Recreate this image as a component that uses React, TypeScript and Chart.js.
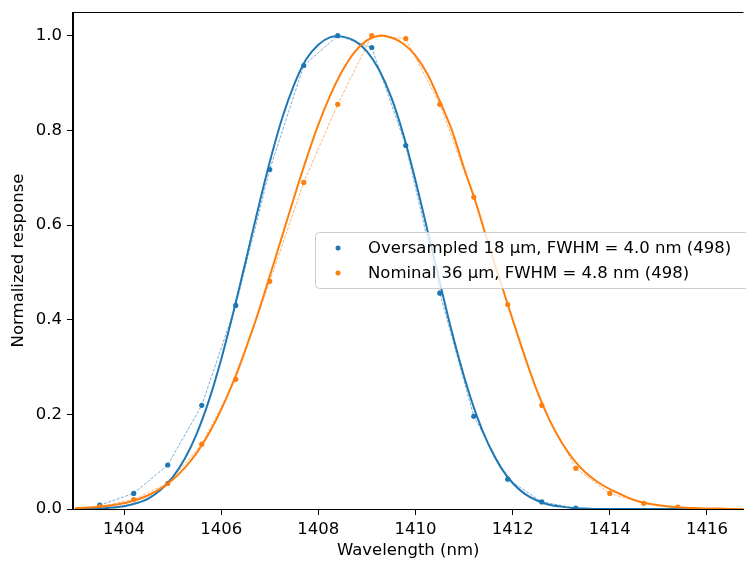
import { useEffect, useRef } from "react";
import { Chart, registerables } from "chart.js";

Chart.register(...registerables);

// ---------------- data ----------------
const seriesLabels = [
  "Oversampled 18 µm, FWHM = 4.0 nm (498)",
  "Nominal 36 µm, FWHM = 4.8 nm (498)",
];

const wavelengths = [
  1403.5, 1404.2, 1404.9, 1405.6, 1406.3, 1407.0, 1407.7, 1408.4, 1409.1,
  1409.8, 1410.5, 1411.2, 1411.9, 1412.6, 1413.3, 1414.0, 1414.7, 1415.4,
];
const oversampled = [
  0.008, 0.033, 0.093, 0.219, 0.43, 0.717, 0.937, 1.0, 0.975, 0.768, 0.456,
  0.196, 0.063, 0.015, 0.002, null, null, null,
];
const nominal = [
  0.005, 0.02, 0.054, 0.137, 0.274, 0.481, 0.69, 0.855, 1.0, 0.994, 0.855,
  0.659, 0.432, 0.219, 0.086, 0.033, 0.012, 0.004,
];

const fitWavelengths = [
  1403.0, 1403.25, 1403.5, 1403.75, 1404.0, 1404.25, 1404.5, 1404.75, 1405.0,
  1405.25, 1405.5, 1405.75, 1406.0, 1406.25, 1406.5, 1406.75, 1407.0, 1407.25,
  1407.5, 1407.75, 1408.0, 1408.25, 1408.5, 1408.75, 1409.0, 1409.25, 1409.5,
  1409.75, 1410.0, 1410.25, 1410.5, 1410.75, 1411.0, 1411.25, 1411.5, 1411.75,
  1412.0, 1412.25, 1412.5, 1412.75, 1413.0, 1413.25, 1413.5, 1413.75, 1414.0,
  1414.25, 1414.5, 1414.75, 1415.0, 1415.25, 1415.5, 1415.75, 1416.0, 1416.25,
  1416.5, 1416.75,
];
const oversampledFit = [
  0.0, 0.001, 0.001, 0.003, 0.006, 0.012, 0.022, 0.04, 0.067, 0.106, 0.16,
  0.23, 0.316, 0.415, 0.522, 0.63, 0.733, 0.824, 0.896, 0.95, 0.981, 0.997,
  0.998, 0.989, 0.967, 0.928, 0.87, 0.791, 0.694, 0.587, 0.479, 0.374, 0.28,
  0.2, 0.137, 0.089, 0.055, 0.032, 0.018, 0.009, 0.005, 0.002, 0.001, 0.0, 0.0,
  0.0, 0.0, 0.0, 0.0, 0.0, 0.0, 0.0, 0.0, 0.0, 0.0, 0.0,
];
const nominalFit = [
  0.002, 0.003, 0.005, 0.008, 0.012, 0.019, 0.029, 0.043, 0.062, 0.087, 0.119,
  0.16, 0.21, 0.269, 0.337, 0.411, 0.492, 0.575, 0.658, 0.738, 0.812, 0.875,
  0.927, 0.966, 0.99, 1.0, 0.996, 0.983, 0.958, 0.918, 0.862, 0.8, 0.72, 0.645,
  0.56, 0.48, 0.4, 0.322, 0.25, 0.19, 0.142, 0.105, 0.077, 0.057, 0.042, 0.03,
  0.019, 0.012, 0.008, 0.005, 0.003, 0.002, 0.001, 0.001, 0.0, 0.0,
];

const xTicks = [1404, 1406, 1408, 1410, 1412, 1414, 1416];
const yTicks = [0.0, 0.2, 0.4, 0.6, 0.8, 1.0];

// ---------------- styling ----------------
const FONT = '"DejaVu Sans", sans-serif';
const FS = 16.5;
const BLUE = "#1f77b4";
const ORANGE = "#ff7f0e";
const BLUE_A = "rgba(31,119,180,0.75)";
const ORANGE_A = "rgba(255,127,14,0.75)";

const toXY = (xs: number[], ys: (number | null)[]) =>
  xs.map((x, i) => ({ x, y: ys[i] }));

const legendPlugin = {
  id: "mplLegend",
  afterDraw(chart: any) {
    const ctx = chart.ctx as CanvasRenderingContext2D;
    ctx.save();
    const x = 315.5, y = 232.5, w = 470, h = 56, r = 4;
    ctx.beginPath();
    (ctx as any).roundRect(x, y, w, h, r);
    ctx.fillStyle = "rgba(255,255,255,0.8)";
    ctx.fill();
    ctx.strokeStyle = "#cccccc";
    ctx.lineWidth = 1;
    ctx.stroke();
    const colors = [BLUE, ORANGE];
    const rows = [248, 273];
    ctx.font = `${FS}px ${FONT}`;
    ctx.textBaseline = "middle";
    ctx.textAlign = "left";
    seriesLabels.forEach((label, i) => {
      ctx.beginPath();
      ctx.arc(338, rows[i], 2.5, 0, Math.PI * 2);
      ctx.fillStyle = colors[i];
      ctx.fill();
      ctx.fillStyle = "#000";
      ctx.fillText(label, 368, rows[i] + 1);
    });
    ctx.restore();
  },
};

const framePlugin = {
  id: "frame",
  afterDatasetsDraw(chart: any) {
    const { ctx, chartArea } = chart;
    ctx.save();
    ctx.strokeStyle = "#000";
    ctx.lineWidth = 1;
    ctx.beginPath();
    ctx.moveTo(chartArea.left, chartArea.top + 0.5);
    ctx.lineTo(chartArea.right, chartArea.top + 0.5);
    ctx.moveTo(chartArea.left - 0.5, chartArea.top);
    ctx.lineTo(chartArea.left - 0.5, chartArea.bottom);
    ctx.moveTo(chartArea.left, chartArea.bottom + 0.5);
    ctx.lineTo(chartArea.right, chartArea.bottom + 0.5);
    ctx.stroke();
    ctx.restore();
  },
};

export default function App() {
  const ref = useRef<HTMLCanvasElement | null>(null);

  useEffect(() => {
    if (!ref.current) return;
    const pointStyle = (color: string, lineColor: string) => ({
      showLine: true,
      borderColor: lineColor,
      borderWidth: 0.8,
      borderDash: [3, 1.5],
      backgroundColor: color,
      pointBackgroundColor: color,
      pointBorderWidth: 0,
      pointRadius: 2.6,
      pointHoverRadius: 2.6,
      spanGaps: false,
    });
    const fitStyle = (color: string) => ({
      showLine: true,
      borderColor: color,
      borderWidth: 2,
      pointRadius: 0,
      pointHoverRadius: 0,
      tension: 0.3,
    });

    const chart = new Chart(ref.current, {
      type: "scatter",
      data: {
        datasets: [
          {
            label: seriesLabels[0] + " fit",
            data: toXY(fitWavelengths, oversampledFit),
            order: 1,
            ...fitStyle(BLUE),
          },
          {
            label: seriesLabels[1] + " fit",
            data: toXY(fitWavelengths, nominalFit),
            order: 0,
            ...fitStyle(ORANGE),
          },
          {
            label: seriesLabels[0],
            data: toXY(wavelengths, oversampled),
            order: 3,
            ...pointStyle(BLUE, BLUE_A),
          },
          {
            label: seriesLabels[1],
            data: toXY(wavelengths, nominal),
            order: 2,
            ...pointStyle(ORANGE, ORANGE_A),
          },
        ] as any,
      },
      options: {
        animation: false,
        responsive: false,
        devicePixelRatio: 1,
        layout: { padding: { top: 12, right: 0, left: 0, bottom: 0 } },
        plugins: {
          legend: { display: false },
          tooltip: { enabled: false },
        },
        events: [],
        scales: {
          x: {
            type: "linear",
            min: 1402.95,
            max: 1416.75,
            afterBuildTicks: (axis: any) => {
              axis.ticks = xTicks.map((v) => ({ value: v }));
            },
            afterFit: (scale: any) => {
              scale.height = 52;
              scale.paddingLeft = 0;
              scale.paddingRight = 0;
            },
            ticks: {
              color: "#000",
              font: { family: FONT, size: FS },
              padding: 5,
              maxRotation: 0,
              autoSkip: false,
              callback: (v: any) => String(v),
            },
            grid: {
              drawOnChartArea: false,
              drawTicks: true,
              tickLength: 6,
              tickColor: "#000",
              tickWidth: 1,
            },
            border: { display: true, color: "#000", width: 1 },
            title: {
              display: true,
              text: "Wavelength (nm)",
              color: "#000",
              font: { family: FONT, size: FS },
              padding: { top: 0, bottom: 0 },
            },
          },
          y: {
            type: "linear",
            min: 0,
            max: 1.05,
            afterBuildTicks: (axis: any) => {
              axis.ticks = yTicks.map((v) => ({ value: v }));
            },
            afterFit: (scale: any) => {
              scale.width = 73;
              scale.paddingTop = 0;
              scale.paddingBottom = 0;
            },
            ticks: {
              color: "#000",
              font: { family: FONT, size: FS },
              padding: 5,
              autoSkip: false,
              callback: (v: any) => Number(v).toFixed(1),
            },
            grid: {
              drawOnChartArea: false,
              drawTicks: true,
              tickLength: 6,
              tickColor: "#000",
              tickWidth: 1,
            },
            border: { display: true, color: "#000", width: 1 },
            title: {
              display: true,
              text: "Normalized response",
              color: "#000",
              font: { family: FONT, size: FS },
              padding: { top: 9, bottom: 0 },
            },
          },
        },
      } as any,
      plugins: [framePlugin, legendPlugin],
    });
    return () => chart.destroy();
  }, []);

  return (
    <div
      style={{
        position: "fixed",
        left: 0,
        top: 0,
        width: 746,
        height: 561,
        background: "#fff",
      }}
    >
      <canvas ref={ref} width={746} height={561} style={{ display: "block" }} />
    </div>
  );
}
